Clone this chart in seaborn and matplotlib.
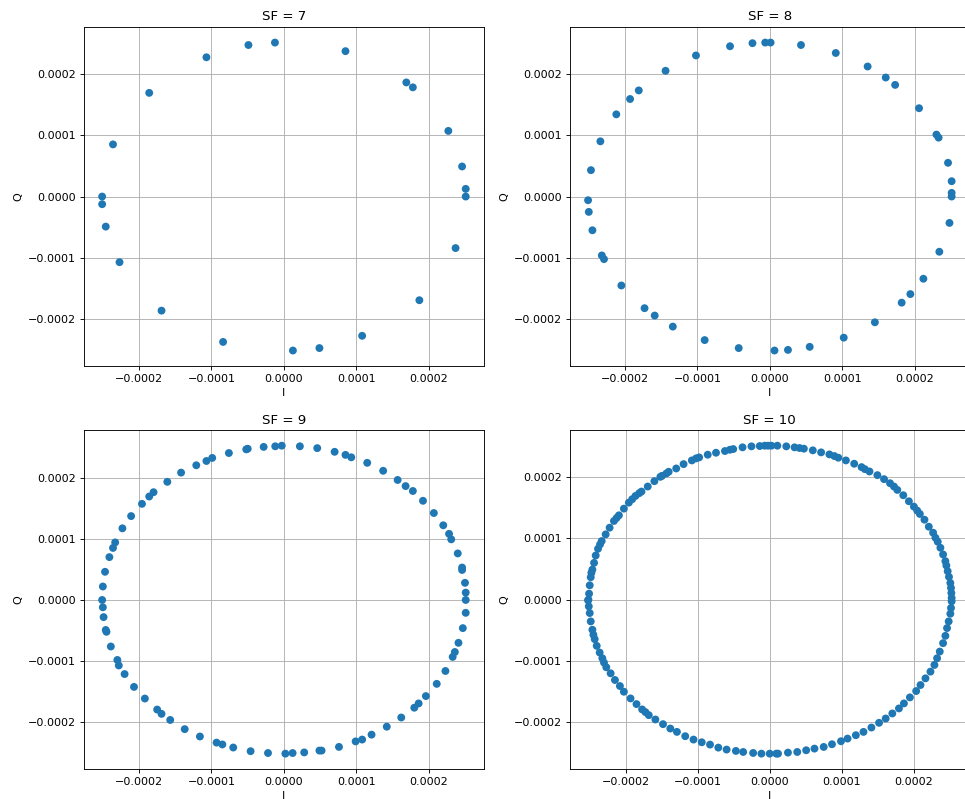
import numpy as np
import pandas as pd
import matplotlib
matplotlib.use("Agg")
import matplotlib.pyplot as plt
import seaborn as sns

# valores, em unidades de 1e-4
ESCALA = 1e-4

sf7_i = [-0.124, -0.49, -1.07, -1.86, -2.36, -2.51, -2.51, -2.46, -2.27, -1.69, -0.84, 0.124,
         0.49, 1.08, 1.87, 2.37, 2.51, 2.51, 2.46, 2.27, 1.78, 1.69, 0.85]
sf7_q = [2.51, 2.47, 2.27, 1.69, 0.85, 0.0, -0.125, -0.49, -1.07, -1.86, -2.37, -2.51,
         -2.47, -2.27, -1.69, -0.84, 0.0, 0.125, 0.49, 1.07, 1.78, 1.86, 2.37]

sf8_i = [-0.064, 0.01, -0.24, -0.55, -1.02, -1.44, -1.81, -1.93, -2.12, -2.34, -2.47, -2.51,
         -2.50, -2.45, -2.32, -2.29, -2.05, -1.73, -1.59, -1.34, -0.90, -0.43, 0.064, 0.25,
         0.55, 1.02, 1.45, 1.82, 1.94, 2.12, 2.34, 2.48, 2.51, 2.51, 2.51, 2.46, 2.33, 2.30,
         2.06, 1.73, 1.60, 1.35, 0.91, 0.43]
sf8_q = [2.51, 2.51, 2.50, 2.45, 2.30, 2.05, 1.73, 1.59, 1.34, 0.90, 0.43, -0.06,
         -0.25, -0.55, -0.96, -1.02, -1.45, -1.82, -1.94, -2.12, -2.34, -2.47, -2.51, -2.50,
         -2.45, -2.30, -2.05, -1.73, -1.59, -1.34, -0.90, -0.43, 0.0, 0.06, 0.25, 0.55, 0.96, 1.01,
         1.44, 1.82, 1.94, 2.12, 2.34, 2.47]

sf9_i = [-0.03, -0.12, -0.28, -0.50, -0.52, -0.76, -0.99, -1.07, -1.21, -1.42, -1.61, -1.80,
         -1.86, -1.96, -2.11, -2.23, -2.33, -2.36, -2.41, -2.47, -2.50, -2.51, -2.50, -2.49,
         -2.46, -2.45, -2.39, -2.30, -2.28, -2.20, -2.07, -1.92, -1.75, -1.69, -1.57, -1.37,
         -1.16, -0.93, -0.85, -0.70, -0.46, -0.22, 0.02, 0.12, 0.28, 0.49, 0.52, 0.76,
         0.99, 1.08, 1.21, 1.42, 1.62, 1.80, 1.86, 1.96, 2.11, 2.23, 2.33, 2.36,
         2.41, 2.47, 2.51, 2.51, 2.51, 2.50, 2.46, 2.46, 2.40, 2.31, 2.28, 2.20,
         2.07, 1.92, 1.78, 1.68, 1.57, 1.37, 1.15, 0.93, 0.85, 0.70, 0.46, 0.22]
sf9_q = [2.52, 2.51, 2.50, 2.47, 2.46, 2.40, 2.32, 2.27, 2.20, 2.08, 1.93, 1.76,
         1.69, 1.57, 1.37, 1.17, 0.94, 0.85, 0.70, 0.46, 0.22, 0.0, -0.12, -0.28,
         -0.49, -0.52, -0.76, -0.98, -1.07, -1.21, -1.42, -1.61, -1.79, -1.86, -1.96, -2.11,
         -2.23, -2.33, -2.36, -2.41, -2.47, -2.50, -2.51, -2.50, -2.49, -2.46, -2.46, -2.40,
         -2.31, -2.28, -2.20, -2.07, -1.92, -1.76, -1.69, -1.57, -1.37, -1.16, -0.93, -0.85,
         -0.70, -0.46, -0.21, 0.0, 0.12, 0.28, 0.49, 0.53, 0.76, 0.99, 1.08, 1.22,
         1.42, 1.62, 1.78, 1.86, 1.96, 2.11, 2.24, 2.33, 2.37, 2.42, 2.48, 2.51]

sf10_i = [0.023, -0.023, -0.069, -0.138, -0.253, -0.377, -0.506, -0.552, -0.621, -0.745,
          -0.860, -0.979, -1.021, -1.080, -1.195, -1.297, -1.402, -1.434, -1.494, -1.517,
          -1.600, -1.692, -1.779, -1.811, -1.862, -1.908, -1.954, -2.023, -2.092, -2.124,
          -2.161, -2.221, -2.276, -2.331, -2.354, -2.382, -2.414, -2.437, -2.460, -2.474,
          -2.483, -2.497, -2.506, -2.515,
          0.106, 0.230, 0.345, 0.414, 0.474, 0.598, 0.713, 0.828, 0.897, 0.952,
          1.057, 1.172, 1.274, 1.320, 1.384, 1.494, 1.586, 1.669, 1.724, 1.770,
          1.853, 1.931, 2.000, 2.046, 2.083, 2.147, 2.207, 2.267, 2.299, 2.331,
          2.368, 2.405, 2.437, 2.451, 2.469, 2.487, 2.506, 2.515, 2.520, 2.524,
          -2.520, -2.510, -2.497, -2.483, -2.460, -2.446, -2.428, -2.400, -2.359, -2.322,
          -2.299, -2.267, -2.207, -2.147, -2.078, -2.023, -1.931, -1.848, -1.770, -1.724,
          -1.678, -1.586, -1.480, -1.379, -1.287, -1.172, -1.057, -0.943, -0.828, -0.713,
          -0.598, -0.469, -0.368, -0.230, -0.115, 0.0, 0.092,
          0.115, 0.253, 0.382, 0.506, 0.621, 0.749, 0.864, 0.989, 1.080, 1.195,
          1.301, 1.411, 1.517, 1.609, 1.701, 1.793, 1.862, 1.945, 2.032, 2.092,
          2.161, 2.230, 2.285, 2.322, 2.359, 2.405, 2.437, 2.460, 2.483, 2.506,
          2.515, 2.524]
sf10_q = [2.507, 2.507, 2.507, 2.501, 2.496, 2.480, 2.452, 2.441, 2.420, 2.392,
          2.360, 2.316, 2.300, 2.267, 2.207, 2.136, 2.082, 2.054, 2.016, 2.000,
          1.929, 1.842, 1.760, 1.733, 1.689, 1.635, 1.580, 1.482, 1.373, 1.330,
          1.281, 1.172, 1.063, 0.954, 0.899, 0.828, 0.719, 0.599, 0.490, 0.436,
          0.365, 0.234, 0.098, 0.0,
          2.507, 2.496, 2.480, 2.469, 2.458, 2.431, 2.398, 2.365, 2.338, 2.311,
          2.267, 2.213, 2.158, 2.125, 2.087, 2.027, 1.962, 1.896, 1.842, 1.787,
          1.700, 1.602, 1.515, 1.450, 1.395, 1.302, 1.188, 1.090, 1.008, 0.943,
          0.845, 0.736, 0.627, 0.556, 0.463, 0.371, 0.272, 0.191, 0.109, 0.027,
          -0.011, -0.109, -0.218, -0.354, -0.490, -0.572, -0.643, -0.752, -0.861, -0.954,
          -1.025, -1.101, -1.199, -1.308, -1.406, -1.499, -1.608, -1.700, -1.787, -1.831,
          -1.880, -1.951, -2.027, -2.098, -2.153, -2.223, -2.278, -2.322, -2.360, -2.409,
          -2.441, -2.463, -2.480, -2.496, -2.507, -2.507, -2.507,
          -2.507, -2.490, -2.480, -2.452, -2.425, -2.398, -2.354, -2.305, -2.262, -2.207,
          -2.153, -2.082, -2.005, -1.935, -1.853, -1.771, -1.689, -1.591, -1.488, -1.390,
          -1.281, -1.172, -1.063, -0.954, -0.845, -0.708, -0.589, -0.463, -0.354, -0.229,
          -0.136, -0.027]

sfs = [7, 8, 9, 10]
dados_i = [sf7_i, sf8_i, sf9_i, sf10_i]
dados_q = [sf7_q, sf8_q, sf9_q, sf10_q]

DPI = 80
fig, axes = plt.subplots(2, 2, figsize=(965 / DPI, 799 / DPI), dpi=DPI)
fig.subplots_adjust(left=0.087, right=1.005, top=0.966, bottom=0.0375,
                    wspace=0.215, hspace=0.19)

for ax, sf, vi, vq in zip(axes.flat, sfs, dados_i, dados_q):
    df = pd.DataFrame({"I": np.array(vi) * ESCALA, "Q": np.array(vq) * ESCALA})
    sns.scatterplot(data=df, x="I", y="Q", ax=ax, color="#1f77b4",
                    s=50, linewidth=0, edgecolor="none")
    ax.set_title(f"SF = {sf}")
    ax.set_xlabel("I")
    ax.set_ylabel("Q")
    ax.grid(True)
    ax.set_axisbelow(True)

plt.savefig("out.png", dpi=DPI)
plt.close()
